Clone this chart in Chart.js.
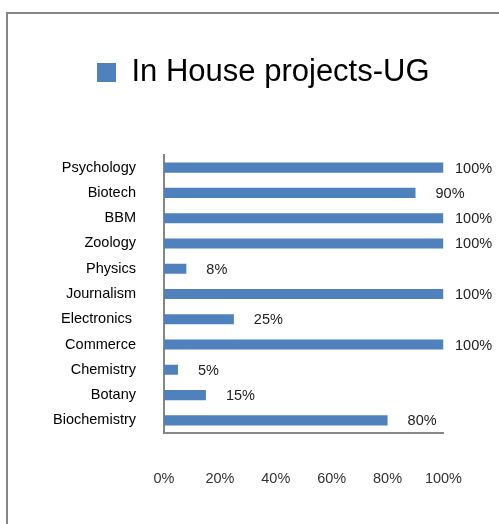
<!DOCTYPE html>
<html>
<head>
<meta charset="utf-8">
<script src="https://cdn.jsdelivr.net/npm/chart.js@4/dist/chart.umd.min.js"></script>
<style>
  html, body { margin: 0; padding: 0; background: #fff; overflow: hidden; }
  #frame {
    position: absolute; left: 6px; top: 12px;
    width: 600px; height: 600px;
    border-left: 2px solid #868686; border-top: 2px solid #868686;
  }
  #chartBox { position: absolute; left: 0; top: 0; width: 499px; height: 524px; }
</style>
</head>
<body>
<div id="frame"></div>
<div id="chartBox"><canvas id="projChart" width="499" height="524"></canvas></div>
<script>
// данные графика
const categories = ['Psychology', 'Biotech', 'BBM', 'Zoology', 'Physics', 'Journalism',
                    'Electronics ', 'Commerce', 'Chemistry', 'Botany', 'Biochemistry'];
const projectShare = [100, 90, 100, 100, 8, 100, 25, 100, 5, 15, 80];
const tickLabels = ['0%', '20%', '40%', '60%', '80%', '100%'];
const seriesName = 'In House projects-UG';

const BAR_COLOR = '#4F81BD';
const AXIS_COLOR = '#868686';
const FONT = '"Liberation Sans", Arial, sans-serif';

// подписи значений справа от столбцов
const valueLabels = {
    id: 'valueLabels',
    afterDatasetsDraw(chart) {
        const ctx = chart.ctx;
        const meta = chart.getDatasetMeta(0);
        ctx.save();
        ctx.font = '14.5px ' + FONT;
        ctx.fillStyle = '#222';
        ctx.textAlign = 'left';
        ctx.textBaseline = 'middle';
        meta.data.forEach((bar, i) => {
            const x = Math.min(bar.x + 20, chart.width - 44);
            ctx.fillText(projectShare[i] + '%', x, bar.y + 1);
        });
        ctx.restore();
    }
};

const ctx = document.getElementById('projChart').getContext('2d');
const chart = new Chart(ctx, {
    type: 'bar',
    data: {
        labels: categories,
        datasets: [{
            label: seriesName,
            data: projectShare,
            backgroundColor: BAR_COLOR,
            borderWidth: 0,
            barPercentage: 0.4,
            categoryPercentage: 1.0
        }]
    },
    options: {
        indexAxis: 'y',
        responsive: false,
        animation: false,
        layout: { padding: { left: 40, right: 54, top: 0, bottom: 35.6 } },
        scales: {
            x: {
                min: 0,
                max: 100,
                grid: { display: false, drawTicks: false },
                border: { display: true, color: AXIS_COLOR, width: 2 },
                ticks: {
                    stepSize: 20,
                    padding: 37,
                    color: '#333',
                    font: { family: FONT, size: 14.5 },
                    callback: (v, i) => tickLabels[i]
                },
                afterFit: (scale) => { scale.height = 55.4; }
            },
            y: {
                grid: { display: false, drawTicks: false },
                border: { display: true, color: AXIS_COLOR, width: 2 },
                ticks: {
                    padding: 28,
                    color: '#000',
                    font: { family: FONT, size: 14.5 }
                },
                afterFit: (scale) => { scale.width = 124; }
            }
        },
        plugins: {
            legend: {
                display: true,
                position: 'top',
                align: 'start',
                labels: {
                    boxWidth: 19,
                    boxHeight: 19,
                    padding: 57,
                    color: '#000',
                    font: { family: FONT, size: 31 }
                }
            },
            // пустой заголовок как отступ между легендой и графиком
            title: {
                display: true,
                text: '',
                weight: 500,
                font: { size: 1, lineHeight: 1 },
                padding: { top: 56, bottom: 0 }
            },
            tooltip: { enabled: false }
        }
    },
    plugins: [valueLabels]
});
</script>
</body>
</html>
